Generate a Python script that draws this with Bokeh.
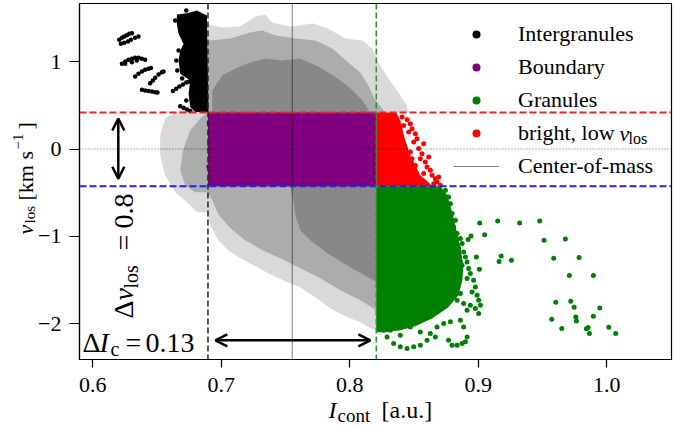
from math import pi
from bokeh.plotting import figure
from bokeh.models import (Range1d, FixedTicker, Span, Arrow, OpenHead,
                          Legend, LegendItem)
from bokeh.core.properties import value
from bokeh.embed import file_html
from bokeh.resources import INLINE

# ------------------------------------------------------------------ data
I_low = 0.6896      # black dashed line
I_high = 0.8206     # green dashed line
I_cm = 0.7552       # centre of mass
v_high = 0.42       # red dashed line
v_low = -0.425      # blue dashed line

x_ticks = [0.6, 0.7, 0.8, 0.9, 1.0]
x_tick_labels = ["0.6", "0.7", "0.8", "0.9", "1.0"]
y_ticks = [-2, -1, 0, 1]
y_tick_labels = ["\u22122", "\u22121", "0", "1"]

legend_labels = ["Intergranules", "Boundary", "Granules", "bright, low", "Center-of-mass"]

# unclassified (grey) cloud: outer, medium and dense outlines
gray_outer_x = [0.6898, 0.7007, 0.7147, 0.7264, 0.7342, 0.7396, 0.7537, 0.7716, 0.7832, 0.7965,
                0.8098, 0.8176, 0.8222, 0.8301, 0.8378, 0.8440, 0.8456, 0.8206, 0.8206, 0.8176,
                0.8082, 0.7965, 0.7848, 0.7731, 0.7614, 0.7498, 0.7380, 0.7264, 0.7147, 0.7054,
                0.6976, 0.6914, 0.6890, 0.6813, 0.6758, 0.6641, 0.6563, 0.6524, 0.6524, 0.6563,
                0.6641, 0.6719, 0.6836, 0.6890]
gray_outer_y = [1.427, 1.392, 1.404, 1.518, 1.541, 1.450, 1.404, 1.438, 1.381, 1.267,
                1.244, 1.152, 0.992, 0.809, 0.649, 0.511, 0.420, 0.420, -2.075, -2.064,
                -1.983, -1.915, -1.823, -1.697, -1.583, -1.514, -1.434, -1.342, -1.251, -1.159,
                -1.045, -0.873, -0.724, -0.724, -0.644, -0.495, -0.301, -0.072, 0.157, 0.351,
                0.420, 0.466, 0.466, 0.557]
gray_mid_x = [0.6914, 0.7070, 0.7225, 0.7319, 0.7420, 0.7576, 0.7731, 0.7864, 0.7988, 0.8082,
              0.8144, 0.8191, 0.8238, 0.8277, 0.8206, 0.8206, 0.8082, 0.7926, 0.7770, 0.7614,
              0.7459, 0.7319, 0.7186, 0.7070, 0.6976, 0.6929, 0.6890, 0.6797, 0.6719, 0.6680,
              0.6702, 0.6758, 0.6836, 0.6890, 0.6898]
gray_mid_y = [1.244, 1.267, 1.335, 1.358, 1.301, 1.267, 1.244, 1.152, 0.992, 0.878,
              0.729, 0.580, 0.489, 0.420, 0.420, -1.846, -1.731, -1.617, -1.480, -1.365,
              -1.251, -1.159, -1.045, -0.907, -0.747, -0.587, -0.495, -0.495, -0.415, -0.244,
              -0.015, 0.214, 0.351, 0.420, 1.244]
gray_core_x = [0.6929, 0.7007, 0.7109, 0.7225, 0.7342, 0.7474, 0.7614, 0.7754, 0.7886, 0.8004,
               0.8098, 0.8160, 0.8206, 0.8206, 0.8183, 0.8004, 0.7825, 0.7692, 0.7614, 0.7576,
               0.7560, 0.7537, 0.6929]
gray_core_y = [0.672, 0.843, 0.923, 0.992, 1.038, 1.015, 1.038, 0.946, 0.832, 0.695,
               0.557, 0.420, 0.420, -1.526, -1.503, -1.354, -1.193, -1.045, -0.930, -0.759,
               -0.587, -0.427, -0.427]

# bright, low v_los (red)
red_x = [0.8206, 0.8362, 0.8393, 0.8432, 0.8471, 0.8510, 0.8549, 0.8612, 0.8643, 0.8206]
red_y = [0.420, 0.420, 0.328, 0.100, -0.072, -0.187, -0.301, -0.381, -0.427, -0.427]
red_dot_x = [0.8407, 0.8446, 0.8471, 0.8419, 0.8484, 0.8458, 0.8510, 0.8523, 0.8497, 0.8575,
             0.8536, 0.8562, 0.8549, 0.8588, 0.8601, 0.8627, 0.8575, 0.8640, 0.8666, 0.8679,
             0.8653, 0.8705, 0.8692, 0.8614, 0.8471, 0.8484, 0.8510]
red_dot_y = [0.366, 0.336, 0.291, 0.271, 0.233, 0.195, 0.176, 0.119, 0.080, 0.062,
             0.005, -0.053, -0.110, -0.149, -0.206, -0.244, -0.281, -0.301, -0.339, -0.378,
             -0.396, -0.415, -0.320, -0.092, -0.034, -0.110, -0.187]

# granules (green)
green_x = [0.8206, 0.8705, 0.8759, 0.8799, 0.8830, 0.8861, 0.8884, 0.8876, 0.8845, 0.8767,
           0.8643, 0.8510, 0.8393, 0.8277, 0.8206]
green_y = [-0.427, -0.427, -0.530, -0.736, -0.930, -1.125, -1.331, -1.503, -1.674, -1.812,
           -1.937, -2.029, -2.075, -2.098, -2.098]
green_dot_x = [0.8744, 0.8769, 0.8783, 0.8762, 0.8796, 0.8822, 0.8808, 0.8835, 0.8861, 0.8874,
               0.8847, 0.8886, 0.8900, 0.8913, 0.8874, 0.8925, 0.8938, 0.8913, 0.8964, 0.8977,
               0.8952, 0.8991, 0.9003, 0.8938, 0.8977, 0.9017, 0.9003, 0.8913, 0.8886, 0.8835,
               0.8861, 0.8822, 0.8757,
               0.8238, 0.8263, 0.8290, 0.8341, 0.8393, 0.8446, 0.8497, 0.8549, 0.8601, 0.8627,
               0.8679, 0.8731, 0.8783, 0.8769, 0.8796, 0.8835, 0.8874, 0.8900, 0.8913, 0.8886,
               0.8861, 0.8471, 0.8393, 0.8315, 0.8549, 0.8666,
               0.9011, 0.9151, 0.9322, 0.9478, 0.9050, 0.8944, 0.8921, 0.9512, 0.9678, 0.8985,
               0.9178, 0.9162, 0.9258, 0.9587, 0.9785, 0.9009, 0.9709, 0.9896, 0.9603, 0.9720,
               0.9746, 0.9946, 0.9572, 0.9759, 0.9764, 0.9896, 0.9650, 0.9842, 0.9855, 0.9865,
               1.0016, 1.0070]
green_dot_y = [-0.472, -0.549, -0.625, -0.682, -0.739, -0.816, -0.892, -0.968, -1.025, -1.082,
               -1.140, -1.178, -1.236, -1.293, -1.331, -1.368, -1.426, -1.483, -1.502, -1.579,
               -1.636, -1.674, -1.731, -1.788, -1.826, -1.788, -1.883, -1.846, -1.769, -1.731,
               -1.655, -1.617, -1.597,
               -1.960, -2.075, -2.151, -2.227, -2.265, -2.284, -2.265, -2.246, -2.189, -2.112,
               -2.037, -1.998, -1.979, -2.189, -2.246, -2.246, -2.227, -2.208, -2.151, -2.037,
               -1.960, -2.037, -2.132, -2.075, -2.094, -2.151,
               -0.847, -0.824, -0.847, -0.824, -0.980, -0.995, -1.037, -1.045, -1.030, -1.236,
               -1.224, -1.289, -1.274, -1.251, -1.243, -1.376, -1.449, -1.449, -1.754, -1.743,
               -1.811, -1.819, -1.949, -1.922, -1.968, -1.914, -2.055, -2.059, -2.044, -2.112,
               -2.040, -2.112]

# intergranules (black)
black_x = [0.6654, 0.6732, 0.6810, 0.6888, 0.6900, 0.6797, 0.6758, 0.6745, 0.6758, 0.6680,
           0.6667, 0.6680, 0.6706, 0.6667, 0.6654]
black_y = [1.541, 1.556, 1.587, 1.530, 0.423, 0.423, 0.481, 0.634, 0.786, 0.863,
           1.015, 1.129, 1.206, 1.320, 1.427]
black_dot_x = [0.6205, 0.6226, 0.6244, 0.6265, 0.6283, 0.6304,
               0.6218, 0.6244, 0.6273, 0.6296, 0.6329, 0.6355,
               0.6226, 0.6252, 0.6277, 0.6304, 0.6329, 0.6355, 0.6381, 0.6407, 0.6252, 0.6304, 0.6342,
               0.6329, 0.6355, 0.6382, 0.6407, 0.6433, 0.6452,
               0.6446, 0.6467, 0.6485, 0.6511, 0.6537, 0.6550,
               0.6382, 0.6407, 0.6433, 0.6460, 0.6485, 0.6503,
               0.6623, 0.6649, 0.6674, 0.6701, 0.6727, 0.6745,
               0.6680, 0.6706, 0.6732, 0.6758,
               0.6667, 0.6649, 0.6657, 0.6695, 0.6727, 0.6711, 0.6641, 0.6727]
black_dot_y = [1.252, 1.275, 1.290, 1.304, 1.320, 1.327,
               1.206, 1.217, 1.232, 1.252, 1.275, 1.289,
               0.977, 1.003, 1.023, 1.034, 1.046, 1.046, 1.034, 1.023, 0.977, 0.995, 1.015,
               0.832, 0.863, 0.889, 0.908, 0.920, 0.927,
               0.755, 0.786, 0.817, 0.855, 0.881, 0.889,
               0.680, 0.672, 0.664, 0.660, 0.652, 0.649,
               0.664, 0.691, 0.717, 0.740, 0.763, 0.771,
               0.489, 0.474, 0.454, 0.435,
               1.129, 1.015, 0.900, 0.809, 0.557, 1.244, 1.473, 1.587]

# boundary (purple) edge points
purple_dot_x = [0.6905, 0.6910, 0.6903, 0.6912]
purple_dot_y = [0.30, 0.05, -0.20, -0.35]

# annotation arrows
dv_arrow_x = 0.6198
dv_arrow_y = [0.35, -0.34]
dI_arrow_x = [0.6953, 0.8160]
dI_arrow_y = -2.19

# ------------------------------------------------------------------ layout
W, H = 676, 428
FL, FR, FT, FB = 79, 671, 3, 359
X0, X1 = 0.5896, 1.0504
Y0, Y1 = -2.41, 1.667
SERIF = "Liberation Serif"

p = figure(width=W, height=H, x_range=Range1d(X0, X1), y_range=Range1d(Y0, Y1),
           output_backend="svg", toolbar_location=None,
           min_border_left=FL, min_border_right=W - FR,
           min_border_top=FT, min_border_bottom=H - FB)
p.xgrid.visible = False
p.ygrid.visible = False
p.background_fill_color = "white"
p.border_fill_color = "white"
p.outline_line_color = "black"
p.outline_line_width = 1.2
p.outline_line_alpha = 1.0

p.xaxis.ticker = FixedTicker(ticks=x_ticks)
p.xaxis.major_label_overrides = {t: s for t, s in zip(x_ticks, x_tick_labels)}
p.yaxis.ticker = FixedTicker(ticks=y_ticks)
p.yaxis.major_label_overrides = {t: s for t, s in zip(y_ticks, y_tick_labels)}
for ax in (p.xaxis[0], p.yaxis[0]):
    ax.major_label_text_font = SERIF
    ax.major_label_text_font_size = "22px"
    ax.major_label_text_color = "black"
    ax.minor_tick_line_color = None
    ax.major_tick_in = 0
    ax.axis_line_color = "black"
    ax.axis_line_width = 1.2
    ax.major_tick_line_width = 1.2
    ax.major_tick_line_color = "black"
p.xaxis.major_tick_out = 8
p.xaxis.major_label_standoff = 10
p.yaxis.major_tick_out = 10
p.yaxis.major_label_standoff = 8

# grey cloud
p.patch(gray_outer_x, gray_outer_y, fill_color="gray", fill_alpha=0.3, line_color=None)
p.patch(gray_mid_x, gray_mid_y, fill_color="gray", fill_alpha=0.5, line_color=None)
p.patch(gray_core_x, gray_core_y, fill_color="gray", fill_alpha=0.8, line_color=None)

# classes
p.quad(left=[I_low], right=[I_high], bottom=[v_low], top=[v_high],
       fill_color="purple", line_color=None)
r_purple = p.scatter(purple_dot_x, purple_dot_y, size=5, color="purple", line_width=0)
p.patch(red_x, red_y, fill_color="red", line_color=None)
r_red = p.scatter(red_dot_x, red_dot_y, size=5, color="red", line_width=0)
p.patch(green_x, green_y, fill_color="green", line_color=None)
r_green = p.scatter(green_dot_x, green_dot_y, size=5, color="green", line_width=0)
p.patch(black_x, black_y, fill_color="black", line_color=None)
r_black = p.scatter(black_dot_x, black_dot_y, size=4.5, color="black", line_width=0)

r_cm = p.line([I_cm, I_cm], [Y0, Y1], line_color="black", line_alpha=0.5, line_width=1)

# threshold lines
p.add_layout(Span(location=v_high, dimension="width", line_color="#ee2222",
                  line_width=2, line_dash="7 3"))
p.add_layout(Span(location=v_low, dimension="width", line_color="#2222ee",
                  line_width=2, line_dash="7 3"))
p.add_layout(Span(location=0, dimension="width", line_color="black", line_alpha=0.8,
                  line_width=0.8, line_dash="1 2"))
p.add_layout(Span(location=I_low, dimension="height", line_color="#222222",
                  line_width=1.5, line_dash="6 3"))
p.add_layout(Span(location=I_high, dimension="height", line_color="#229922",
                  line_width=1.5, line_dash="6 3"))

# arrows
p.add_layout(Arrow(start=OpenHead(size=12, line_width=2.5), end=OpenHead(size=12, line_width=2.5),
                   x_start=dv_arrow_x, y_start=dv_arrow_y[0], x_end=dv_arrow_x, y_end=dv_arrow_y[1],
                   line_width=2.5))
p.add_layout(Arrow(start=OpenHead(size=12, line_width=2.5), end=OpenHead(size=12, line_width=2.5),
                   x_start=dI_arrow_x[0], y_start=dI_arrow_y, x_end=dI_arrow_x[1], y_end=dI_arrow_y,
                   line_width=2.5))

# legend
legend = Legend(items=[LegendItem(label=legend_labels[0], renderers=[r_black]),
                       LegendItem(label=legend_labels[1], renderers=[r_purple]),
                       LegendItem(label=legend_labels[2], renderers=[r_green]),
                       LegendItem(label=legend_labels[3], renderers=[r_red]),
                       LegendItem(label=legend_labels[4], renderers=[r_cm])],
                location=(374, 178), glyph_width=46, glyph_height=20, label_height=30,
                spacing=3, padding=0, label_standoff=19, border_line_color=None,
                background_fill_alpha=0, label_text_font=SERIF, label_text_font_size="22px",
                label_text_color="black")
p.add_layout(legend)


def px2x(px):
    return X0 + (px - FL) * (X1 - X0) / (FR - FL)


def py2y(py):
    return Y1 - (py - FT) * (Y1 - Y0) / (FB - FT)


def txt(s, px, py, size, style="normal", angle=0.0, baseline="alphabetic"):
    # text glyph at overlay level (not clipped to the frame); the alphabetic
    # baseline is corrected for the renderer's downward offset
    if baseline == "alphabetic":
        if angle == 0.0:
            py -= 0.25 * size
        else:
            px -= 0.25 * size
    p.text(x=[px2x(px)], y=[py2y(py)], text=[s], angle=angle,
           text_font=value(SERIF), text_font_size=value(f"{size}px"),
           text_font_style=style, text_baseline=baseline, text_align="left",
           text_color="black", level="overlay")


# legend label v_los
txt("v", 619, 133, 22, "italic", baseline="middle")
txt("los", 628, 142, 16)

# y axis label (rotated)
txt("v", 30, 234, 22, "italic", pi / 2)
txt("los", 33, 223, 15, "normal", pi / 2)
txt("[km s", 30, 200, 22, "normal", pi / 2)
txt("\u22121", 21, 149, 15, "normal", pi / 2)
txt("]", 30, 129, 22, "normal", pi / 2)

# x axis label
txt("I", 328, 415, 24, "italic")
txt("cont", 337, 420, 19)
txt("[a.u.]", 381, 415, 24)

# delta I annotation
txt("\u0394", 82, 349, 28)
txt("I", 99, 349, 28, "italic")
txt("c", 110, 353, 20)
txt("=", 125, 349, 28)
txt("0.13", 145, 349, 28)

# delta v annotation (rotated)
txt("\u0394", 130, 318, 28, "normal", pi / 2)
txt("v", 130, 300, 28, "italic", pi / 2)
txt("los", 135, 288, 20, "normal", pi / 2)
txt("=", 130, 250, 28, "normal", pi / 2)
txt("0.8", 130, 228, 28, "normal", pi / 2)

open("out.html", "w").write(file_html(p, INLINE))
